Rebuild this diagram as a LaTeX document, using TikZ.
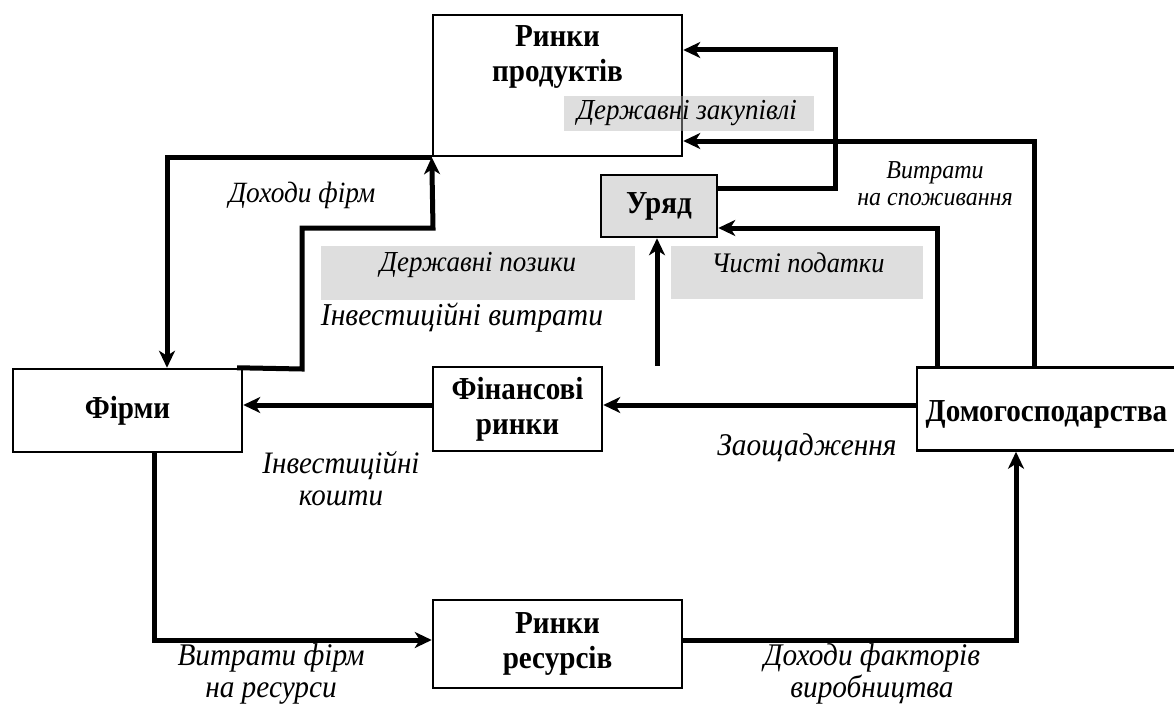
\documentclass[tikz,border=0pt]{standalone}
\usepackage{fontspec}
\setmainfont{Liberation Serif}
\newfontfamily\bfam[FakeStretch=0.91]{Liberation Serif}
\newfontfamily\ifam[FakeStretch=0.93]{Liberation Serif}
\usetikzlibrary{arrows.meta}
\begin{document}
\begin{tikzpicture}[x=1pt,y=-1pt,
 box/.style={draw, line width=2.5pt, inner sep=0pt, font=\bfam\fontsize{32}{35}\selectfont\bfseries, align=center},
 flow/.style={line width=5pt, -{Stealth[length=17pt,width=16pt,inset=5pt]}},
 bt/.style={font=\bfam\fontsize{32}{35}\selectfont\bfseries, align=center, inner sep=0pt},
 it/.style={font=\ifam\fontsize{#1}{32}\selectfont\itshape, align=center, inner sep=0pt},
 it/.default=31.5,
 sit/.style={font=\ifam\fontsize{25.8}{27}\selectfont\itshape, align=center, inner sep=0pt},
 greybox/.style={fill={rgb,255:red,180;green,180;blue,180}, fill opacity=0.44, text opacity=1, draw=none, inner sep=0pt}
]
\useasboundingbox (0,0) rectangle (1174,706);
\clip (0,0) rectangle (1174,706);

% boxes
\node[box, minimum width=249pt, minimum height=141pt] (pm) at (557.5,85.5) {};
\node[bt] (pmt) at (557.5,57) {Ринки\\продуктів};
\node[box, fill={rgb,255:red,221;green,221;blue,221}, minimum width=116pt, minimum height=62pt] (gov) at (659,206) {Уряд};
\node[box, minimum width=229pt, minimum height=83pt] (firms) at (127.5,410.5) {Фірми};
\node[box, minimum width=169pt, minimum height=84pt] (fin) at (517.5,409) {Фінансові\\ринки};
\node[box, minimum width=259pt, minimum height=83pt, text height=24pt, text depth=0pt] (hh) at (1046.5,409) {Домогосподарства};
\node[box, minimum width=249pt, minimum height=88pt] (rr) at (557.5,644) {Ринки\\ресурсів};

% connectors
\draw[flow] (gov.east |- 0,188) -| (835,50) -- (pm.east |- 0,50);
\draw[flow] (hh.north -| 1034,0) |- (pm.east |- 0,141);
\draw[flow] (hh.north -| 937,0) |- (gov.east |- 0,228);
\draw[flow] (fin.north -| 657,0) -- (gov.south -| 657,0);
\draw[flow] (firms.north -| 237,0) -- (302,369) -- (302,228) -- (433,228) -- (pm.south west);
\draw[flow] (pm.south west) -| (firms.north -| 167,0);
\draw[flow] (fin.west |- 0,405) -- (firms.east |- 0,405);
\draw[flow] (hh.west |- 0,405) -- (fin.east |- 0,405);
\draw[flow] (firms.south -| 154,0) |- (rr.west |- 0,640);
\draw[flow] (rr.east |- 0,640) -| (hh.south -| 1016,0);

% grey labels
\node[greybox, minimum width=250pt, minimum height=35pt] (gz) at (689,113.5) {};
\node[it=29] (gzt) at (687,113.5) {Державні закупівлі};
\node[greybox, minimum width=314pt, minimum height=54pt] (gp) at (478,273) {};
\node[it=29] (gpt) at (478,265) {Державні позики};
\node[greybox, minimum width=252pt, minimum height=53pt] (gt) at (797,272.5) {};
\node[it=28.3] (gtt) at (798,263) {Чисті податки};

% other labels
\node[it=29.4] (l1) at (302,195) {Доходи фірм};
\node[it=31.8] (l2) at (462,318) {Інвестиційні витрати};
\node[sit] (l3) at (935,184) {Витрати\\на споживання};
\node[it=31.2] (l4) at (341,479) {Інвестиційні\\кошти};
\node[it=31.6] (l5) at (807,448) {Заощадження};
\node[it=31.5] (l6) at (271,674) {Витрати фірм\\на ресурси};
\node[it=31.5] (l7) at (872,674) {Доходи факторів\\виробництва};
\end{tikzpicture}
\end{document}
